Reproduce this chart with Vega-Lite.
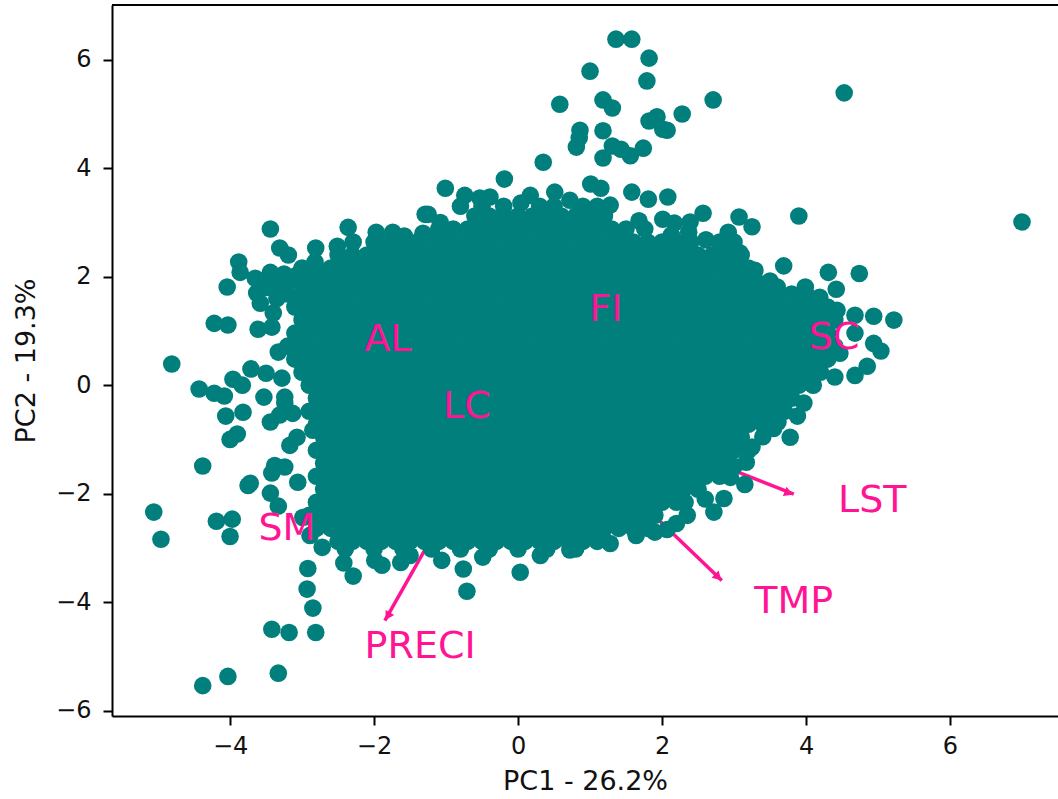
{"$schema":"https://vega.github.io/schema/vega-lite/v6.json","width":946,"height":711,"autosize":"none","padding":{"left":112,"top":5,"right":0,"bottom":83},"background":"white","config":{"view":{"stroke":null},"axis":{"grid":false,"domainColor":"#000","domainWidth":2,"tickColor":"#000","tickWidth":2,"tickSize":9,"labelFont":"DejaVu Sans","titleFont":"DejaVu Sans","labelFontSize":24,"titleFontSize":27,"titleFontWeight":"normal","labelColor":"#111","titleColor":"#111"}},
"encoding":{"x":{"field":"x","type":"quantitative","scale":{"domain":[-5.64,7.5],"nice":false,"zero":false},"axis":{"title":"PC1 - 26.2%","values":[-4,-2,0,2,4,6],"labelPadding":9,"titlePadding":10}},"y":{"field":"y","type":"quantitative","scale":{"domain":[-6.1,7.01],"nice":false,"zero":false},"axis":{"title":"PC2 - 19.3%","values":[-6,-4,-2,0,2,4,6],"labelPadding":12,"titlePadding":15}}},
"layer":[
{"data":{"values":[{"x":0,"y":0,"x2":3.83,"y2":-2.01},{"x":0,"y":0,"x2":2.83,"y2":-3.6},{"x":0,"y":0,"x2":-1.85,"y2":-4.34}]},"mark":{"type":"rule","color":"#ff1493","strokeWidth":3.5},"encoding":{"x2":{"field":"x2"},"y2":{"field":"y2"}}},
{"data":{"values":[{"x":3.76,"y":-1.99}]},"mark":{"type":"point","shape":"triangle-up","filled":true,"opacity":1,"color":"#ff1493","size":100,"angle":112}},
{"data":{"values":[{"x":2.78,"y":-3.54}]},"mark":{"type":"point","shape":"triangle-up","filled":true,"opacity":1,"color":"#ff1493","size":100,"angle":134}},
{"data":{"values":[{"x":-1.81,"y":-4.26}]},"mark":{"type":"point","shape":"triangle-up","filled":true,"opacity":1,"color":"#ff1493","size":100,"angle":210}},
{"data":{"values":[{"x":-5.64,"x2":7.5,"y":7.01}]},"mark":{"type":"rule","color":"#000","strokeWidth":2},"encoding":{"x2":{"field":"x2"}}},
{"data":{"values":[
{"x":-0.8,"y":3.3},{"x":-0.5,"y":3.3},{"x":-0.2,"y":3.3},{"x":0.3,"y":3.3},{"x":0.5,"y":3.3},{"x":0.9,"y":3.3},{"x":1.1,"y":3.3},{"x":-2,"y":2.64},{"x":-1.8,"y":2.64},{"x":-2.5,"y":2.4},{"x":-2.3,"y":2.4},{"x":-3,"y":2.16},{"x":-2.8,"y":2.16},{"x":-3.2,"y":1.92},{"x":-3.05,"y":1.92},{"x":2.1,"y":2.4},{"x":2.3,"y":2.4},{"x":2.5,"y":2.4},{"x":2.7,"y":2.4},{"x":2.9,"y":2.4},{"x":3.1,"y":2.4},{"x":2.6,"y":2.16},{"x":2.8,"y":2.16},{"x":3,"y":2.16},{"x":3.2,"y":2.16},{"x":2.9,"y":1.92},{"x":3.1,"y":1.92},{"x":3.3,"y":1.92},{"x":3.5,"y":1.92},{"x":1.8,"y":2.64},{"x":2,"y":2.64},{"x":2.2,"y":2.64},{"x":2.4,"y":2.64},{"x":2.8,"y":2.64},{"x":3,"y":2.64},{"x":3.2,"y":1.68},{"x":3.4,"y":1.68},{"x":-3.5,"y":1.8},{"x":-3.35,"y":1.6},{"x":-3.3,"y":1.85},{"x":-3.25,"y":2.05},{"x":-3.45,"y":1.95},{"x":2.95,"y":-1.7},{"x":3,"y":-1.5},{"x":2.6,"y":-2.1},{"x":2.35,"y":-2.4},{"x":2.2,"y":-2.55},{"x":3.2,"y":-1.2},{"x":3.4,"y":-0.95},{"x":3.55,"y":-0.8},{"x":-2.4,"y":-3.02},{"x":-2,"y":-3.02},{"x":-1.6,"y":-3.02},{"x":-1.2,"y":-3.02},{"x":-0.8,"y":-3.02},{"x":-0.4,"y":-3.02},{"x":0,"y":-3.02},{"x":0.4,"y":-3.02},{"x":0.8,"y":-3.02},
{"x":1.36,"y":6.38},{"x":1.58,"y":6.38},{"x":1.82,"y":6.03},{"x":1.79,"y":5.61},{"x":1.0,"y":5.79},{"x":0.58,"y":5.18},{"x":1.18,"y":5.26},{"x":1.31,"y":5.11},{"x":2.71,"y":5.26},{"x":2.28,"y":5.0},{"x":1.93,"y":4.95},{"x":1.82,"y":4.87},{"x":2.01,"y":4.72},{"x":2.07,"y":4.7},{"x":0.86,"y":4.7},{"x":0.85,"y":4.56},{"x":0.81,"y":4.39},{"x":1.18,"y":4.69},{"x":1.31,"y":4.41},{"x":1.43,"y":4.35},{"x":1.56,"y":4.23},{"x":1.74,"y":4.37},{"x":1.18,"y":4.19},{"x":0.35,"y":4.11},{"x":4.53,"y":5.39},{"x":3.9,"y":3.12},{"x":7.0,"y":3.01},{"x":-0.19,"y":3.8},{"x":0.51,"y":3.56},{"x":1.01,"y":3.71},{"x":1.15,"y":3.63},{"x":1.58,"y":3.56},{"x":1.81,"y":3.43},{"x":2.08,"y":3.47},{"x":0.04,"y":3.36},{"x":1.68,"y":3.03},{"x":1.76,"y":2.88},{"x":2.01,"y":3.06},{"x":2.17,"y":2.99},{"x":2.57,"y":3.17},{"x":2.39,"y":3.01},{"x":2.37,"y":2.82},{"x":3.07,"y":3.1},{"x":3.25,"y":2.92},{"x":2.92,"y":2.82},{"x":2.61,"y":2.68},{"x":1.82,"y":2.53},{"x":2.13,"y":2.77},
{"x":-3.44,"y":2.88},{"x":-3.31,"y":2.53},{"x":-3.19,"y":2.4},{"x":-3.88,"y":2.27},{"x":-2.81,"y":2.53},{"x":-2.36,"y":2.91},{"x":-2.51,"y":2.56},{"x":-2.29,"y":2.64},{"x":-1.97,"y":2.82},{"x":-1.74,"y":2.82},{"x":-1.29,"y":3.15},{"x":-1.32,"y":2.8},{"x":-2.82,"y":2.27},{"x":-3.44,"y":2.08},{"x":-3.86,"y":2.08},{"x":-3.65,"y":1.97},{"x":-4.04,"y":1.81},{"x":-3.07,"y":2.03},{"x":-3.63,"y":1.7},{"x":-3.58,"y":1.51},{"x":-3.4,"y":1.33},{"x":-4.22,"y":1.14},{"x":-4.03,"y":1.11},{"x":-3.61,"y":1.03},{"x":-3.42,"y":1.07},{"x":-3.33,"y":0.61},{"x":-4.81,"y":0.39},{"x":-3.71,"y":0.3},{"x":-3.5,"y":0.22},{"x":-3.28,"y":0.13},{"x":-3.96,"y":0.11},{"x":-3.83,"y":0.0},{"x":-4.43,"y":-0.07},{"x":-4.22,"y":-0.15},{"x":-4.08,"y":-0.2},{"x":-3.53,"y":-0.22},{"x":-3.24,"y":-0.22},{"x":-3.24,"y":-0.33},{"x":-3.13,"y":-0.52},{"x":-3.31,"y":-0.55},{"x":-3.82,"y":-0.5},{"x":-4.06,"y":-0.57},{"x":-3.44,"y":-0.68},{"x":-3.9,"y":-0.9},{"x":-4.0,"y":-1.0},{"x":-3.07,"y":-0.96},{"x":-3.17,"y":-1.11},{"x":-2.85,"y":-0.83},
{"x":-4.38,"y":-1.49},{"x":-3.38,"y":-1.48},{"x":-3.24,"y":-1.51},{"x":-3.42,"y":-1.62},{"x":-3.72,"y":-1.81},{"x":-3.75,"y":-1.85},{"x":-3.06,"y":-1.79},{"x":-3.44,"y":-1.99},{"x":-3.33,"y":-2.23},{"x":-5.06,"y":-2.34},{"x":-4.96,"y":-2.84},{"x":-4.19,"y":-2.51},{"x":-3.97,"y":-2.47},{"x":-4.0,"y":-2.79},{"x":-2.99,"y":-2.44},{"x":-2.89,"y":-2.77},{"x":-2.72,"y":-2.99},{"x":-2.92,"y":-3.38},{"x":-2.93,"y":-3.76},{"x":-2.85,"y":-4.11},{"x":-2.81,"y":-4.56},{"x":-3.42,"y":-4.5},{"x":-3.18,"y":-4.56},{"x":-2.42,"y":-3.28},{"x":-2.29,"y":-3.52},{"x":-1.89,"y":-3.32},{"x":-1.63,"y":-3.27},{"x":-1.06,"y":-3.23},{"x":-0.76,"y":-3.39},{"x":-0.71,"y":-3.8},{"x":-3.33,"y":-5.31},{"x":-4.03,"y":-5.37},{"x":-4.38,"y":-5.54},
{"x":3.69,"y":2.2},{"x":4.31,"y":2.08},{"x":4.74,"y":2.06},{"x":4.42,"y":1.77},{"x":4.68,"y":1.29},{"x":4.94,"y":1.27},{"x":5.22,"y":1.2},{"x":4.43,"y":1.38},{"x":4.68,"y":0.96},{"x":4.94,"y":0.77},{"x":5.04,"y":0.63},{"x":4.85,"y":0.35},{"x":4.68,"y":0.18},{"x":4.4,"y":0.15},{"x":4.47,"y":0.59},{"x":3.78,"y":-0.96},{"x":3.97,"y":-0.33},{"x":3.88,"y":-0.57},{"x":3.61,"y":-0.68},{"x":3.25,"y":-1.14},{"x":3.17,"y":-1.42},{"x":3.15,"y":-1.83},{"x":2.86,"y":-2.09},{"x":2.72,"y":-2.34},{"x":2.32,"y":-2.16},{"x":2.07,"y":-2.66},{"x":1.9,"y":-2.71},{"x":3.29,"y":2.12},{"x":3.08,"y":2.44},{"x":3.6,"y":1.81},{"x":3.99,"y":1.81},{"x":3.22,"y":1.79},{"x":1.83,"y":2.45},{"x":4.19,"y":1.62},{"x":4.13,"y":0.28},{"x":4.06,"y":0.04},
{"x":-1.01,"y":3.63},{"x":-0.74,"y":3.5},{"x":-0.53,"y":3.45},{"x":-0.39,"y":3.47},{"x":-1.25,"y":3.15},{"x":-1.58,"y":2.75},{"x":-1.08,"y":3.0},{"x":0.17,"y":3.5},{"x":0.72,"y":3.41},{"x":1.28,"y":3.32},{"x":0.31,"y":-3.14},{"x":0.72,"y":-3.04},{"x":1.28,"y":-2.92},{"x":1.64,"y":-2.77},{"x":0.03,"y":-3.45},{"x":-0.49,"y":-3.17},{"x":-1.5,"y":-3.14},{"x":-1.99,"y":-3.23},
{"x":-0.6,"y":3.12},{"x":-0.4,"y":3.12},{"x":-0.2,"y":3.12},{"x":0,"y":3.12},{"x":0.2,"y":3.12},{"x":0.4,"y":3.12},{"x":0.6,"y":3.12},{"x":0.8,"y":3.12},{"x":1,"y":3.12},{"x":1.2,"y":3.12},
{"x":-1.1,"y":2.88},{"x":-0.9,"y":2.88},{"x":-0.7,"y":2.88},{"x":-0.5,"y":2.88},{"x":-0.3,"y":2.88},{"x":-0.1,"y":2.88},{"x":0.1,"y":2.88},{"x":0.3,"y":2.88},{"x":0.5,"y":2.88},{"x":0.7,"y":2.88},{"x":0.9,"y":2.88},{"x":1.1,"y":2.88},{"x":1.3,"y":2.88},{"x":1.5,"y":2.88},
{"x":-1.6,"y":2.64},{"x":-1.4,"y":2.64},{"x":-1.2,"y":2.64},{"x":-1,"y":2.64},{"x":-0.8,"y":2.64},{"x":-0.6,"y":2.64},{"x":-0.4,"y":2.64},{"x":-0.2,"y":2.64},{"x":0,"y":2.64},{"x":0.2,"y":2.64},{"x":0.4,"y":2.64},{"x":0.6,"y":2.64},{"x":0.8,"y":2.64},{"x":1,"y":2.64},{"x":1.2,"y":2.64},{"x":1.4,"y":2.64},{"x":1.6,"y":2.64},
{"x":-2.1,"y":2.4},{"x":-1.9,"y":2.4},{"x":-1.7,"y":2.4},{"x":-1.5,"y":2.4},{"x":-1.3,"y":2.4},{"x":-1.1,"y":2.4},{"x":-0.9,"y":2.4},{"x":-0.7,"y":2.4},{"x":-0.5,"y":2.4},{"x":-0.3,"y":2.4},{"x":-0.1,"y":2.4},{"x":0.1,"y":2.4},{"x":0.3,"y":2.4},{"x":0.5,"y":2.4},{"x":0.7,"y":2.4},{"x":0.9,"y":2.4},{"x":1.1,"y":2.4},{"x":1.3,"y":2.4},{"x":1.5,"y":2.4},{"x":1.7,"y":2.4},{"x":1.9,"y":2.4},
{"x":-2.6,"y":2.16},{"x":-2.4,"y":2.16},{"x":-2.2,"y":2.16},{"x":-2,"y":2.16},{"x":-1.8,"y":2.16},{"x":-1.6,"y":2.16},{"x":-1.4,"y":2.16},{"x":-1.2,"y":2.16},{"x":-1,"y":2.16},{"x":-0.8,"y":2.16},{"x":-0.6,"y":2.16},{"x":-0.4,"y":2.16},{"x":-0.2,"y":2.16},{"x":0,"y":2.16},{"x":0.2,"y":2.16},{"x":0.4,"y":2.16},{"x":0.6,"y":2.16},{"x":0.8,"y":2.16},{"x":1,"y":2.16},{"x":1.2,"y":2.16},{"x":1.4,"y":2.16},{"x":1.6,"y":2.16},{"x":1.8,"y":2.16},{"x":2,"y":2.16},{"x":2.2,"y":2.16},{"x":2.4,"y":2.16},
{"x":-2.9,"y":1.92},{"x":-2.7,"y":1.92},{"x":-2.5,"y":1.92},{"x":-2.3,"y":1.92},{"x":-2.1,"y":1.92},{"x":-1.9,"y":1.92},{"x":-1.7,"y":1.92},{"x":-1.5,"y":1.92},{"x":-1.3,"y":1.92},{"x":-1.1,"y":1.92},{"x":-0.9,"y":1.92},{"x":-0.7,"y":1.92},{"x":-0.5,"y":1.92},{"x":-0.3,"y":1.92},{"x":-0.1,"y":1.92},{"x":0.1,"y":1.92},{"x":0.3,"y":1.92},{"x":0.5,"y":1.92},{"x":0.7,"y":1.92},{"x":0.9,"y":1.92},{"x":1.1,"y":1.92},{"x":1.3,"y":1.92},{"x":1.5,"y":1.92},{"x":1.7,"y":1.92},{"x":1.9,"y":1.92},{"x":2.1,"y":1.92},{"x":2.3,"y":1.92},{"x":2.5,"y":1.92},{"x":2.7,"y":1.92},
{"x":-3.2,"y":1.68},{"x":-3,"y":1.68},{"x":-2.8,"y":1.68},{"x":-2.6,"y":1.68},{"x":-2.4,"y":1.68},{"x":-2.2,"y":1.68},{"x":-2,"y":1.68},{"x":-1.8,"y":1.68},{"x":-1.6,"y":1.68},{"x":-1.4,"y":1.68},{"x":-1.2,"y":1.68},{"x":-1,"y":1.68},{"x":-0.8,"y":1.68},{"x":-0.6,"y":1.68},{"x":-0.4,"y":1.68},{"x":-0.2,"y":1.68},{"x":0,"y":1.68},{"x":0.2,"y":1.68},{"x":0.4,"y":1.68},{"x":0.6,"y":1.68},{"x":0.8,"y":1.68},{"x":1,"y":1.68},{"x":1.2,"y":1.68},{"x":1.4,"y":1.68},{"x":1.6,"y":1.68},{"x":1.8,"y":1.68},{"x":2,"y":1.68},{"x":2.2,"y":1.68},{"x":2.4,"y":1.68},{"x":2.6,"y":1.68},{"x":2.8,"y":1.68},{"x":3,"y":1.68},{"x":3.6,"y":1.68},{"x":3.8,"y":1.68},{"x":4,"y":1.68},
{"x":-3.1,"y":1.44},{"x":-2.9,"y":1.44},{"x":-2.7,"y":1.44},{"x":-2.5,"y":1.44},{"x":-2.3,"y":1.44},{"x":-2.1,"y":1.44},{"x":-1.9,"y":1.44},{"x":-1.7,"y":1.44},{"x":-1.5,"y":1.44},{"x":-1.3,"y":1.44},{"x":-1.1,"y":1.44},{"x":-0.9,"y":1.44},{"x":-0.7,"y":1.44},{"x":-0.5,"y":1.44},{"x":-0.3,"y":1.44},{"x":-0.1,"y":1.44},{"x":0.1,"y":1.44},{"x":0.3,"y":1.44},{"x":0.5,"y":1.44},{"x":0.7,"y":1.44},{"x":0.9,"y":1.44},{"x":1.1,"y":1.44},{"x":1.3,"y":1.44},{"x":1.5,"y":1.44},{"x":1.7,"y":1.44},{"x":1.9,"y":1.44},{"x":2.1,"y":1.44},{"x":2.3,"y":1.44},{"x":2.5,"y":1.44},{"x":2.7,"y":1.44},{"x":2.9,"y":1.44},{"x":3.1,"y":1.44},{"x":3.3,"y":1.44},{"x":3.5,"y":1.44},{"x":3.7,"y":1.44},{"x":3.9,"y":1.44},{"x":4.1,"y":1.44},{"x":4.3,"y":1.44},
{"x":-3,"y":1.2},{"x":-2.8,"y":1.2},{"x":-2.6,"y":1.2},{"x":-2.4,"y":1.2},{"x":-2.2,"y":1.2},{"x":-2,"y":1.2},{"x":-1.8,"y":1.2},{"x":-1.6,"y":1.2},{"x":-1.4,"y":1.2},{"x":-1.2,"y":1.2},{"x":-1,"y":1.2},{"x":-0.8,"y":1.2},{"x":-0.6,"y":1.2},{"x":-0.4,"y":1.2},{"x":-0.2,"y":1.2},{"x":0,"y":1.2},{"x":0.2,"y":1.2},{"x":0.4,"y":1.2},{"x":0.6,"y":1.2},{"x":0.8,"y":1.2},{"x":1,"y":1.2},{"x":1.2,"y":1.2},{"x":1.4,"y":1.2},{"x":1.6,"y":1.2},{"x":1.8,"y":1.2},{"x":2,"y":1.2},{"x":2.2,"y":1.2},{"x":2.4,"y":1.2},{"x":2.6,"y":1.2},{"x":2.8,"y":1.2},{"x":3,"y":1.2},{"x":3.2,"y":1.2},{"x":3.4,"y":1.2},{"x":3.6,"y":1.2},{"x":3.8,"y":1.2},{"x":4,"y":1.2},{"x":4.2,"y":1.2},{"x":4.4,"y":1.2},
{"x":-3.1,"y":0.96},{"x":-2.9,"y":0.96},{"x":-2.7,"y":0.96},{"x":-2.5,"y":0.96},{"x":-2.3,"y":0.96},{"x":-2.1,"y":0.96},{"x":-1.9,"y":0.96},{"x":-1.7,"y":0.96},{"x":-1.5,"y":0.96},{"x":-1.3,"y":0.96},{"x":-1.1,"y":0.96},{"x":-0.9,"y":0.96},{"x":-0.7,"y":0.96},{"x":-0.5,"y":0.96},{"x":-0.3,"y":0.96},{"x":-0.1,"y":0.96},{"x":0.1,"y":0.96},{"x":0.3,"y":0.96},{"x":0.5,"y":0.96},{"x":0.7,"y":0.96},{"x":0.9,"y":0.96},{"x":1.1,"y":0.96},{"x":1.3,"y":0.96},{"x":1.5,"y":0.96},{"x":1.7,"y":0.96},{"x":1.9,"y":0.96},{"x":2.1,"y":0.96},{"x":2.3,"y":0.96},{"x":2.5,"y":0.96},{"x":2.7,"y":0.96},{"x":2.9,"y":0.96},{"x":3.1,"y":0.96},{"x":3.3,"y":0.96},{"x":3.5,"y":0.96},{"x":3.7,"y":0.96},{"x":3.9,"y":0.96},{"x":4.1,"y":0.96},{"x":4.3,"y":0.96},
{"x":-3.2,"y":0.72},{"x":-3,"y":0.72},{"x":-2.8,"y":0.72},{"x":-2.6,"y":0.72},{"x":-2.4,"y":0.72},{"x":-2.2,"y":0.72},{"x":-2,"y":0.72},{"x":-1.8,"y":0.72},{"x":-1.6,"y":0.72},{"x":-1.4,"y":0.72},{"x":-1.2,"y":0.72},{"x":-1,"y":0.72},{"x":-0.8,"y":0.72},{"x":-0.6,"y":0.72},{"x":-0.4,"y":0.72},{"x":-0.2,"y":0.72},{"x":0,"y":0.72},{"x":0.2,"y":0.72},{"x":0.4,"y":0.72},{"x":0.6,"y":0.72},{"x":0.8,"y":0.72},{"x":1,"y":0.72},{"x":1.2,"y":0.72},{"x":1.4,"y":0.72},{"x":1.6,"y":0.72},{"x":1.8,"y":0.72},{"x":2,"y":0.72},{"x":2.2,"y":0.72},{"x":2.4,"y":0.72},{"x":2.6,"y":0.72},{"x":2.8,"y":0.72},{"x":3,"y":0.72},{"x":3.2,"y":0.72},{"x":3.4,"y":0.72},{"x":3.6,"y":0.72},{"x":3.8,"y":0.72},{"x":4,"y":0.72},{"x":4.2,"y":0.72},{"x":4.4,"y":0.72},
{"x":-3.1,"y":0.48},{"x":-2.9,"y":0.48},{"x":-2.7,"y":0.48},{"x":-2.5,"y":0.48},{"x":-2.3,"y":0.48},{"x":-2.1,"y":0.48},{"x":-1.9,"y":0.48},{"x":-1.7,"y":0.48},{"x":-1.5,"y":0.48},{"x":-1.3,"y":0.48},{"x":-1.1,"y":0.48},{"x":-0.9,"y":0.48},{"x":-0.7,"y":0.48},{"x":-0.5,"y":0.48},{"x":-0.3,"y":0.48},{"x":-0.1,"y":0.48},{"x":0.1,"y":0.48},{"x":0.3,"y":0.48},{"x":0.5,"y":0.48},{"x":0.7,"y":0.48},{"x":0.9,"y":0.48},{"x":1.1,"y":0.48},{"x":1.3,"y":0.48},{"x":1.5,"y":0.48},{"x":1.7,"y":0.48},{"x":1.9,"y":0.48},{"x":2.1,"y":0.48},{"x":2.3,"y":0.48},{"x":2.5,"y":0.48},{"x":2.7,"y":0.48},{"x":2.9,"y":0.48},{"x":3.1,"y":0.48},{"x":3.3,"y":0.48},{"x":3.5,"y":0.48},{"x":3.7,"y":0.48},{"x":3.9,"y":0.48},{"x":4.1,"y":0.48},{"x":4.3,"y":0.48},
{"x":-3,"y":0.24},{"x":-2.8,"y":0.24},{"x":-2.6,"y":0.24},{"x":-2.4,"y":0.24},{"x":-2.2,"y":0.24},{"x":-2,"y":0.24},{"x":-1.8,"y":0.24},{"x":-1.6,"y":0.24},{"x":-1.4,"y":0.24},{"x":-1.2,"y":0.24},{"x":-1,"y":0.24},{"x":-0.8,"y":0.24},{"x":-0.6,"y":0.24},{"x":-0.4,"y":0.24},{"x":-0.2,"y":0.24},{"x":0,"y":0.24},{"x":0.2,"y":0.24},{"x":0.4,"y":0.24},{"x":0.6,"y":0.24},{"x":0.8,"y":0.24},{"x":1,"y":0.24},{"x":1.2,"y":0.24},{"x":1.4,"y":0.24},{"x":1.6,"y":0.24},{"x":1.8,"y":0.24},{"x":2,"y":0.24},{"x":2.2,"y":0.24},{"x":2.4,"y":0.24},{"x":2.6,"y":0.24},{"x":2.8,"y":0.24},{"x":3,"y":0.24},{"x":3.2,"y":0.24},{"x":3.4,"y":0.24},{"x":3.6,"y":0.24},{"x":3.8,"y":0.24},{"x":4,"y":0.24},{"x":4.2,"y":0.24},
{"x":-2.9,"y":0},{"x":-2.7,"y":0},{"x":-2.5,"y":0},{"x":-2.3,"y":0},{"x":-2.1,"y":0},{"x":-1.9,"y":0},{"x":-1.7,"y":0},{"x":-1.5,"y":0},{"x":-1.3,"y":0},{"x":-1.1,"y":0},{"x":-0.9,"y":0},{"x":-0.7,"y":0},{"x":-0.5,"y":0},{"x":-0.3,"y":0},{"x":-0.1,"y":0},{"x":0.1,"y":0},{"x":0.3,"y":0},{"x":0.5,"y":0},{"x":0.7,"y":0},{"x":0.9,"y":0},{"x":1.1,"y":0},{"x":1.3,"y":0},{"x":1.5,"y":0},{"x":1.7,"y":0},{"x":1.9,"y":0},{"x":2.1,"y":0},{"x":2.3,"y":0},{"x":2.5,"y":0},{"x":2.7,"y":0},{"x":2.9,"y":0},{"x":3.1,"y":0},{"x":3.3,"y":0},{"x":3.5,"y":0},{"x":3.7,"y":0},{"x":3.9,"y":0},{"x":4.1,"y":0},
{"x":-2.8,"y":-0.24},{"x":-2.6,"y":-0.24},{"x":-2.4,"y":-0.24},{"x":-2.2,"y":-0.24},{"x":-2,"y":-0.24},{"x":-1.8,"y":-0.24},{"x":-1.6,"y":-0.24},{"x":-1.4,"y":-0.24},{"x":-1.2,"y":-0.24},{"x":-1,"y":-0.24},{"x":-0.8,"y":-0.24},{"x":-0.6,"y":-0.24},{"x":-0.4,"y":-0.24},{"x":-0.2,"y":-0.24},{"x":0,"y":-0.24},{"x":0.2,"y":-0.24},{"x":0.4,"y":-0.24},{"x":0.6,"y":-0.24},{"x":0.8,"y":-0.24},{"x":1,"y":-0.24},{"x":1.2,"y":-0.24},{"x":1.4,"y":-0.24},{"x":1.6,"y":-0.24},{"x":1.8,"y":-0.24},{"x":2,"y":-0.24},{"x":2.2,"y":-0.24},{"x":2.4,"y":-0.24},{"x":2.6,"y":-0.24},{"x":2.8,"y":-0.24},{"x":3,"y":-0.24},{"x":3.2,"y":-0.24},{"x":3.4,"y":-0.24},{"x":3.6,"y":-0.24},{"x":3.8,"y":-0.24},
{"x":-2.9,"y":-0.48},{"x":-2.7,"y":-0.48},{"x":-2.5,"y":-0.48},{"x":-2.3,"y":-0.48},{"x":-2.1,"y":-0.48},{"x":-1.9,"y":-0.48},{"x":-1.7,"y":-0.48},{"x":-1.5,"y":-0.48},{"x":-1.3,"y":-0.48},{"x":-1.1,"y":-0.48},{"x":-0.9,"y":-0.48},{"x":-0.7,"y":-0.48},{"x":-0.5,"y":-0.48},{"x":-0.3,"y":-0.48},{"x":-0.1,"y":-0.48},{"x":0.1,"y":-0.48},{"x":0.3,"y":-0.48},{"x":0.5,"y":-0.48},{"x":0.7,"y":-0.48},{"x":0.9,"y":-0.48},{"x":1.1,"y":-0.48},{"x":1.3,"y":-0.48},{"x":1.5,"y":-0.48},{"x":1.7,"y":-0.48},{"x":1.9,"y":-0.48},{"x":2.1,"y":-0.48},{"x":2.3,"y":-0.48},{"x":2.5,"y":-0.48},{"x":2.7,"y":-0.48},{"x":2.9,"y":-0.48},{"x":3.1,"y":-0.48},{"x":3.3,"y":-0.48},{"x":3.5,"y":-0.48},{"x":3.7,"y":-0.48},
{"x":-2.8,"y":-0.72},{"x":-2.6,"y":-0.72},{"x":-2.4,"y":-0.72},{"x":-2.2,"y":-0.72},{"x":-2,"y":-0.72},{"x":-1.8,"y":-0.72},{"x":-1.6,"y":-0.72},{"x":-1.4,"y":-0.72},{"x":-1.2,"y":-0.72},{"x":-1,"y":-0.72},{"x":-0.8,"y":-0.72},{"x":-0.6,"y":-0.72},{"x":-0.4,"y":-0.72},{"x":-0.2,"y":-0.72},{"x":0,"y":-0.72},{"x":0.2,"y":-0.72},{"x":0.4,"y":-0.72},{"x":0.6,"y":-0.72},{"x":0.8,"y":-0.72},{"x":1,"y":-0.72},{"x":1.2,"y":-0.72},{"x":1.4,"y":-0.72},{"x":1.6,"y":-0.72},{"x":1.8,"y":-0.72},{"x":2,"y":-0.72},{"x":2.2,"y":-0.72},{"x":2.4,"y":-0.72},{"x":2.6,"y":-0.72},{"x":2.8,"y":-0.72},{"x":3,"y":-0.72},{"x":3.2,"y":-0.72},{"x":3.4,"y":-0.72},
{"x":-2.7,"y":-0.96},{"x":-2.5,"y":-0.96},{"x":-2.3,"y":-0.96},{"x":-2.1,"y":-0.96},{"x":-1.9,"y":-0.96},{"x":-1.7,"y":-0.96},{"x":-1.5,"y":-0.96},{"x":-1.3,"y":-0.96},{"x":-1.1,"y":-0.96},{"x":-0.9,"y":-0.96},{"x":-0.7,"y":-0.96},{"x":-0.5,"y":-0.96},{"x":-0.3,"y":-0.96},{"x":-0.1,"y":-0.96},{"x":0.1,"y":-0.96},{"x":0.3,"y":-0.96},{"x":0.5,"y":-0.96},{"x":0.7,"y":-0.96},{"x":0.9,"y":-0.96},{"x":1.1,"y":-0.96},{"x":1.3,"y":-0.96},{"x":1.5,"y":-0.96},{"x":1.7,"y":-0.96},{"x":1.9,"y":-0.96},{"x":2.1,"y":-0.96},{"x":2.3,"y":-0.96},{"x":2.5,"y":-0.96},{"x":2.7,"y":-0.96},{"x":2.9,"y":-0.96},{"x":3.1,"y":-0.96},
{"x":-2.8,"y":-1.2},{"x":-2.6,"y":-1.2},{"x":-2.4,"y":-1.2},{"x":-2.2,"y":-1.2},{"x":-2,"y":-1.2},{"x":-1.8,"y":-1.2},{"x":-1.6,"y":-1.2},{"x":-1.4,"y":-1.2},{"x":-1.2,"y":-1.2},{"x":-1,"y":-1.2},{"x":-0.8,"y":-1.2},{"x":-0.6,"y":-1.2},{"x":-0.4,"y":-1.2},{"x":-0.2,"y":-1.2},{"x":0,"y":-1.2},{"x":0.2,"y":-1.2},{"x":0.4,"y":-1.2},{"x":0.6,"y":-1.2},{"x":0.8,"y":-1.2},{"x":1,"y":-1.2},{"x":1.2,"y":-1.2},{"x":1.4,"y":-1.2},{"x":1.6,"y":-1.2},{"x":1.8,"y":-1.2},{"x":2,"y":-1.2},{"x":2.2,"y":-1.2},{"x":2.4,"y":-1.2},{"x":2.6,"y":-1.2},{"x":2.8,"y":-1.2},{"x":3,"y":-1.2},
{"x":-2.7,"y":-1.44},{"x":-2.5,"y":-1.44},{"x":-2.3,"y":-1.44},{"x":-2.1,"y":-1.44},{"x":-1.9,"y":-1.44},{"x":-1.7,"y":-1.44},{"x":-1.5,"y":-1.44},{"x":-1.3,"y":-1.44},{"x":-1.1,"y":-1.44},{"x":-0.9,"y":-1.44},{"x":-0.7,"y":-1.44},{"x":-0.5,"y":-1.44},{"x":-0.3,"y":-1.44},{"x":-0.1,"y":-1.44},{"x":0.1,"y":-1.44},{"x":0.3,"y":-1.44},{"x":0.5,"y":-1.44},{"x":0.7,"y":-1.44},{"x":0.9,"y":-1.44},{"x":1.1,"y":-1.44},{"x":1.3,"y":-1.44},{"x":1.5,"y":-1.44},{"x":1.7,"y":-1.44},{"x":1.9,"y":-1.44},{"x":2.1,"y":-1.44},{"x":2.3,"y":-1.44},{"x":2.5,"y":-1.44},{"x":2.7,"y":-1.44},{"x":2.9,"y":-1.44},
{"x":-2.8,"y":-1.68},{"x":-2.6,"y":-1.68},{"x":-2.4,"y":-1.68},{"x":-2.2,"y":-1.68},{"x":-2,"y":-1.68},{"x":-1.8,"y":-1.68},{"x":-1.6,"y":-1.68},{"x":-1.4,"y":-1.68},{"x":-1.2,"y":-1.68},{"x":-1,"y":-1.68},{"x":-0.8,"y":-1.68},{"x":-0.6,"y":-1.68},{"x":-0.4,"y":-1.68},{"x":-0.2,"y":-1.68},{"x":0,"y":-1.68},{"x":0.2,"y":-1.68},{"x":0.4,"y":-1.68},{"x":0.6,"y":-1.68},{"x":0.8,"y":-1.68},{"x":1,"y":-1.68},{"x":1.2,"y":-1.68},{"x":1.4,"y":-1.68},{"x":1.6,"y":-1.68},{"x":1.8,"y":-1.68},{"x":2,"y":-1.68},{"x":2.2,"y":-1.68},{"x":2.4,"y":-1.68},{"x":2.6,"y":-1.68},{"x":2.8,"y":-1.68},
{"x":-2.7,"y":-1.92},{"x":-2.5,"y":-1.92},{"x":-2.3,"y":-1.92},{"x":-2.1,"y":-1.92},{"x":-1.9,"y":-1.92},{"x":-1.7,"y":-1.92},{"x":-1.5,"y":-1.92},{"x":-1.3,"y":-1.92},{"x":-1.1,"y":-1.92},{"x":-0.9,"y":-1.92},{"x":-0.7,"y":-1.92},{"x":-0.5,"y":-1.92},{"x":-0.3,"y":-1.92},{"x":-0.1,"y":-1.92},{"x":0.1,"y":-1.92},{"x":0.3,"y":-1.92},{"x":0.5,"y":-1.92},{"x":0.7,"y":-1.92},{"x":0.9,"y":-1.92},{"x":1.1,"y":-1.92},{"x":1.3,"y":-1.92},{"x":1.5,"y":-1.92},{"x":1.7,"y":-1.92},{"x":1.9,"y":-1.92},{"x":2.1,"y":-1.92},{"x":2.3,"y":-1.92},{"x":2.5,"y":-1.92},
{"x":-2.8,"y":-2.16},{"x":-2.6,"y":-2.16},{"x":-2.4,"y":-2.16},{"x":-2.2,"y":-2.16},{"x":-2,"y":-2.16},{"x":-1.8,"y":-2.16},{"x":-1.6,"y":-2.16},{"x":-1.4,"y":-2.16},{"x":-1.2,"y":-2.16},{"x":-1,"y":-2.16},{"x":-0.8,"y":-2.16},{"x":-0.6,"y":-2.16},{"x":-0.4,"y":-2.16},{"x":-0.2,"y":-2.16},{"x":0,"y":-2.16},{"x":0.2,"y":-2.16},{"x":0.4,"y":-2.16},{"x":0.6,"y":-2.16},{"x":0.8,"y":-2.16},{"x":1,"y":-2.16},{"x":1.2,"y":-2.16},{"x":1.4,"y":-2.16},{"x":1.6,"y":-2.16},{"x":1.8,"y":-2.16},{"x":2,"y":-2.16},{"x":2.2,"y":-2.16},
{"x":-2.9,"y":-2.4},{"x":-2.7,"y":-2.4},{"x":-2.5,"y":-2.4},{"x":-2.3,"y":-2.4},{"x":-2.1,"y":-2.4},{"x":-1.9,"y":-2.4},{"x":-1.7,"y":-2.4},{"x":-1.5,"y":-2.4},{"x":-1.3,"y":-2.4},{"x":-1.1,"y":-2.4},{"x":-0.9,"y":-2.4},{"x":-0.7,"y":-2.4},{"x":-0.5,"y":-2.4},{"x":-0.3,"y":-2.4},{"x":-0.1,"y":-2.4},{"x":0.1,"y":-2.4},{"x":0.3,"y":-2.4},{"x":0.5,"y":-2.4},{"x":0.7,"y":-2.4},{"x":0.9,"y":-2.4},{"x":1.1,"y":-2.4},{"x":1.3,"y":-2.4},{"x":1.5,"y":-2.4},{"x":1.7,"y":-2.4},{"x":1.9,"y":-2.4},
{"x":-2.8,"y":-2.64},{"x":-2.6,"y":-2.64},{"x":-2.4,"y":-2.64},{"x":-2.2,"y":-2.64},{"x":-2,"y":-2.64},{"x":-1.8,"y":-2.64},{"x":-1.6,"y":-2.64},{"x":-1.4,"y":-2.64},{"x":-1.2,"y":-2.64},{"x":-1,"y":-2.64},{"x":-0.8,"y":-2.64},{"x":-0.6,"y":-2.64},{"x":-0.4,"y":-2.64},{"x":-0.2,"y":-2.64},{"x":0,"y":-2.64},{"x":0.2,"y":-2.64},{"x":0.4,"y":-2.64},{"x":0.6,"y":-2.64},{"x":0.8,"y":-2.64},{"x":1,"y":-2.64},{"x":1.2,"y":-2.64},{"x":1.4,"y":-2.64},{"x":1.6,"y":-2.64},{"x":1.8,"y":-2.64},
{"x":-2.5,"y":-2.88},{"x":-2.3,"y":-2.88},{"x":-2.1,"y":-2.88},{"x":-1.9,"y":-2.88},{"x":-1.7,"y":-2.88},{"x":-1.5,"y":-2.88},{"x":-1.3,"y":-2.88},{"x":-1.1,"y":-2.88},{"x":-0.9,"y":-2.88},{"x":-0.7,"y":-2.88},{"x":-0.5,"y":-2.88},{"x":-0.3,"y":-2.88},{"x":-0.1,"y":-2.88},{"x":0.1,"y":-2.88},{"x":0.3,"y":-2.88},{"x":0.5,"y":-2.88},{"x":0.7,"y":-2.88},{"x":0.9,"y":-2.88},{"x":1.1,"y":-2.88}
]},"mark":{"type":"circle","color":"#007f7c","opacity":1,"size":310}},
{"data":{"values":[{"x":-3.21,"y":-2.66,"label":"SM"},{"x":-1.81,"y":0.83,"label":"AL"},{"x":-0.71,"y":-0.41,"label":"LC"},{"x":1.22,"y":1.38,"label":"FI"},{"x":4.39,"y":0.87,"label":"SC"},{"x":4.92,"y":-2.14,"label":"LST"},{"x":3.83,"y":-3.99,"label":"TMP"},{"x":-1.36,"y":-4.83,"label":"PRECI"}]},"mark":{"type":"text","font":"DejaVu Sans","fontSize":38,"color":"#ff1493","align":"center","baseline":"middle"},"encoding":{"text":{"field":"label"}}}
]}
